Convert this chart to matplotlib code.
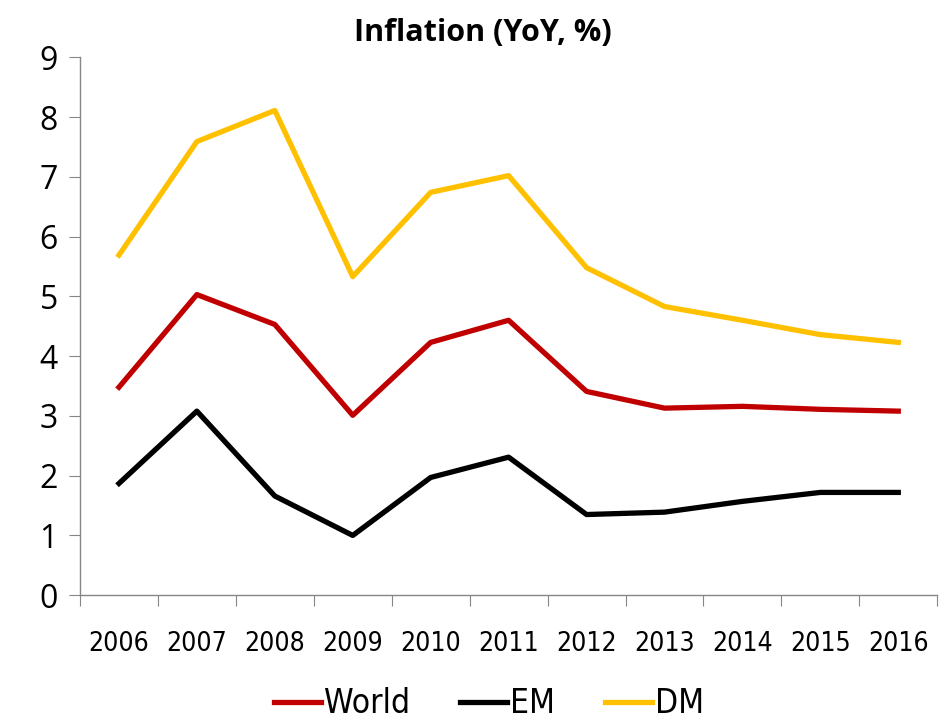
import matplotlib
matplotlib.use("Agg")
import matplotlib.pyplot as plt

years = ["2006", "2007", "2008", "2009", "2010", "2011", "2012", "2013", "2014", "2015", "2016"]
world = [3.48, 5.03, 4.53, 3.01, 4.23, 4.60, 3.41, 3.13, 3.16, 3.11, 3.08]
em = [1.87, 3.08, 1.66, 1.00, 1.97, 2.31, 1.35, 1.39, 1.57, 1.72, 1.72]
dm = [5.69, 7.59, 8.11, 5.33, 6.74, 7.02, 5.48, 4.83, 4.60, 4.36, 4.23]

plt.rcParams["font.family"] = ["Open Sans", "DejaVu Sans"]
narrow = dict(family="DejaVu Sans", stretch="condensed")

fig = plt.figure(figsize=(9.41, 7.25), dpi=100)
ax = fig.add_axes([0.085, 0.179, 0.911, 0.742])

x = list(range(len(years)))
ax.plot(x, world, color="#C00000", lw=3.8, label="World")
ax.plot(x, em, color="black", lw=3.8, label="EM")
ax.plot(x, dm, color="#FFC000", lw=3.8, label="DM")

ax.set_xlim(-0.5, len(years) - 0.5)
ax.set_ylim(0, 9)
ax.set_yticks(range(10))
ax.tick_params(axis="y", labelsize=23, length=8, color="#868686", pad=8)

ax.set_xticks([i - 0.5 for i in range(len(years) + 1)])
ax.set_xticklabels([])
ax.set_xticks(x, minor=True)
ax.set_xticklabels(years, minor=True, fontsize=19, **narrow)
ax.tick_params(axis="x", which="major", length=8, color="#868686")
ax.tick_params(axis="x", which="minor", length=0, pad=26)

for s in ["top", "right"]:
    ax.spines[s].set_visible(False)
for s in ["left", "bottom"]:
    ax.spines[s].set_color("#868686")
    ax.spines[s].set_linewidth(1.0)

ax.set_title("Inflation (YoY, %)", fontsize=22, fontweight="bold", pad=12, x=0.47)

leg = fig.legend(loc="lower center", bbox_to_anchor=(0.52, -0.035), ncol=3, frameon=False,
                 prop=dict(size=24, **narrow), handlelength=1.4, handletextpad=0.1,
                 columnspacing=1.5)

fig.savefig("out.png", dpi=100)
